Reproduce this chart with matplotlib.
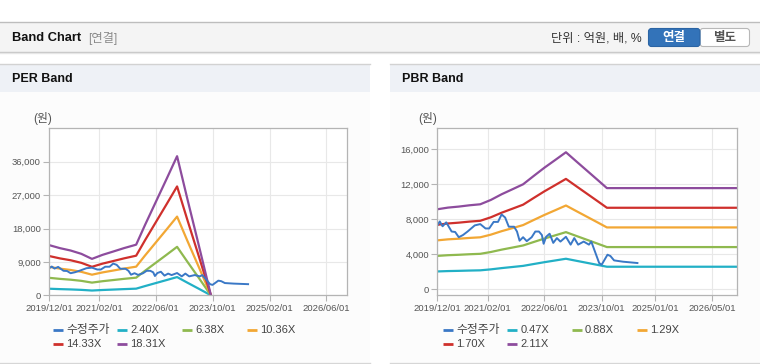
import numpy as np
import matplotlib
matplotlib.use("Agg")
import matplotlib.pyplot as plt
import matplotlib.dates as mdates
from matplotlib.ticker import FuncFormatter
from matplotlib.patches import Rectangle, FancyBboxPatch

# ---- data ----
# adjusted share price (same series in both panels)
price_dates = ['2019-12-01', '2019-12-22', '2020-01-15', '2020-02-15', '2020-04-01', '2020-05-01',
               '2020-06-01', '2020-07-07', '2020-08-15', '2020-10-15', '2020-12-01', '2021-01-15',
               '2021-02-15', '2021-03-25', '2021-05-01', '2021-06-01', '2021-07-01', '2021-08-01',
               '2021-09-15', '2021-10-10', '2021-11-01', '2021-12-01', '2022-01-01', '2022-02-12',
               '2022-03-15', '2022-04-15', '2022-05-10', '2022-05-25', '2022-06-15', '2022-07-15',
               '2022-08-15', '2022-09-15', '2022-10-15', '2022-12-01', '2023-01-10', '2023-02-10',
               '2023-03-15', '2023-05-01', '2023-06-15', '2023-07-05', '2023-09-10', '2023-10-01',
               '2023-11-20', '2023-12-15', '2024-01-15', '2024-04-01', '2024-08-01']
price = [7300, 7750, 7200, 7650, 6600, 6550,
         5950, 6200, 6600, 7300, 7450, 6950,
         6950, 7700, 7700, 8550, 8200, 7150,
         7150, 6600, 5550, 5950, 5500, 5950,
         6600, 6600, 6200, 5200, 6000, 6350,
         5300, 5850, 5450, 6000, 5100, 5850,
         5100, 5450, 5100, 5450, 3000, 2800,
         3950, 3800, 3300, 3150, 3000]

# EPS used for the PER band
eps_dates = ['2019-12-01', '2020-03-01', '2020-06-01', '2020-09-01', '2020-12-01', '2021-03-01',
             '2021-06-01', '2021-09-01', '2021-12-15', '2022-03-01', '2022-06-01', '2022-09-01',
             '2022-12-01', '2023-03-01', '2023-06-01', '2023-09-15']
eps = [738, 694, 659, 610, 536, 595, 644, 694, 745, 1035, 1372, 1709, 2047, 1406, 765, 16]
per_labels = ['2.40X', '6.38X', '10.36X', '14.33X', '18.31X']
per_mult = [2.40, 6.38, 10.36, 14.33, 18.31]

# BPS used for the PBR band
bps_dates = ['2019-12-01', '2020-03-01', '2020-06-01', '2020-09-01', '2020-12-01', '2021-03-01',
             '2021-06-01', '2021-09-01', '2021-12-01', '2022-03-01', '2022-06-01', '2022-09-01',
             '2022-12-01', '2023-03-01', '2023-06-01', '2023-09-01', '2023-11-15', '2026-12-01']
bps = [4334, 4424, 4479, 4550, 4604, 4839, 5147, 5417, 5687, 6137, 6588, 7005,
       7422, 6919, 6410, 5900, 5480, 5480]
pbr_labels = ['0.47X', '0.88X', '1.29X', '1.70X', '2.11X']
pbr_mult = [0.47, 0.88, 1.29, 1.70, 2.11]

per_ticks = ['2019-12-01', '2021-02-01', '2022-06-01', '2023-10-01', '2025-02-01', '2026-06-01']
pbr_ticks = ['2019-12-01', '2021-02-01', '2022-06-01', '2023-10-01', '2025-01-01', '2026-05-01']

price_color = '#3a78c6'
band_colors = ['#22b0c6', '#8fb94f', '#f2a734', '#cf302c', '#8d4c9d']

W, H = 760, 364
KR = ['Liberation Sans', 'Noto Sans CJK KR']


def rect(l, t, r, b):
    return [l / W, (H - b) / H, (r - l) / W, (b - t) / H]


fig = plt.figure(figsize=(W / 100, H / 100), dpi=100)
fig.patch.set_facecolor('white')

# background / frame drawn in pixel coordinates
bg = fig.add_axes([0, 0, 1, 1], zorder=0)
bg.set_xlim(0, W)
bg.set_ylim(H, 0)
bg.axis('off')

# header bar
bg.add_patch(Rectangle((0, 22), W, 30, facecolor='#f4f4f4', edgecolor='none'))
bg.plot([0, W], [21.8, 21.8], color='#bdbdbd', lw=1)
bg.plot([0, W], [52, 52], color='#c4c4c4', lw=1)
bg.plot([0, W], [53.2, 53.2], color='#e6e6e6', lw=1)
bg.text(12, 38, 'Band Chart', fontsize=9.3, fontweight='bold', family='Liberation Sans',
        color='#111111', va='center')
bg.text(88, 38.5, '[연결]', fontsize=8.8, family=KR, color='#8a8a8a', va='center')
bg.text(641.5, 38.5, '단위 : 억원, 배, %', fontsize=8.8, family=KR, color='#333333',
        va='center', ha='right')
bg.add_patch(FancyBboxPatch((700, 28.5), 49.5, 18, boxstyle='round,pad=0,rounding_size=3',
                            facecolor='white', edgecolor='#b8b8b8', lw=0.8))
bg.add_patch(FancyBboxPatch((648.5, 28.5), 51.5, 18, boxstyle='round,pad=0,rounding_size=3',
                            facecolor='#3373b9', edgecolor='#2b64a4', lw=0.8))
bg.text(674, 38, '연결', fontsize=9, fontweight='bold', family=KR, color='white',
        ha='center', va='center')
bg.text(724.5, 38, '별도', fontsize=9, fontweight='bold', family=KR, color='#555555',
        ha='center', va='center')

# panel frames
for x0, title in [(0, 'PER Band'), (390, 'PBR Band')]:
    bg.add_patch(Rectangle((x0, 92), 370, 270, facecolor='#fcfcfc', edgecolor='none'))
    bg.add_patch(Rectangle((x0, 64), 370, 28, facecolor='#eef1f6', edgecolor='none'))
    bg.plot([x0, x0 + 370], [64.3, 64.3], color='#d2d2d2', lw=1)
    bg.plot([x0, x0 + 370], [362.5, 362.5], color='#d6d6d6', lw=1)
    bg.text(x0 + 12, 79.5, title, fontsize=9, fontweight='bold', family='Liberation Sans',
            color='#111111', va='center')

# legends
item_x = [53.3, 117.3, 182, 246.7]
for x0, labels in [(0, per_labels), (390, pbr_labels)]:
    names = ['수정주가'] + labels
    cols = [price_color] + band_colors
    for i, (name, c) in enumerate(zip(names, cols)):
        lx = x0 + item_x[i % 4]
        ly = 330 if i < 4 else 343.5
        bg.plot([lx, lx + 10], [ly, ly], color=c, lw=2, solid_capstyle='butt')
        fs = 8.5 if i == 0 else 8
        bg.text(lx + 13, ly + 0.3, name, fontsize=fs, family=KR, color='#444444', va='center')


def style_axes(ax, ticks, ylim, yticks):
    ax.set_facecolor('white')
    ax.set_xlim(np.datetime64('2019-12-01'), np.datetime64('2026-11-30'))
    ax.set_ylim(*ylim)
    ax.set_xticks(np.array(ticks, dtype='datetime64[D]'))
    ax.xaxis.set_major_formatter(mdates.DateFormatter('%Y/%m/%d'))
    ax.set_yticks(yticks)
    ax.yaxis.set_major_formatter(FuncFormatter(lambda v, p: f'{v:,.0f}'))
    ax.grid(True, color='#e8e8e8', lw=0.8)
    ax.set_axisbelow(True)
    for s in ax.spines.values():
        s.set_color('#b4b4b4')
        s.set_linewidth(0.9)
    ax.tick_params(length=4, width=0.8, color='#b4b4b4', labelsize=6.8, labelcolor='#555555', pad=2)
    for lab in ax.get_xticklabels() + ax.get_yticklabels():
        lab.set_family('Liberation Sans')


# PER band
ax1 = fig.add_axes(rect(49.3, 128.3, 347.3, 295.3), zorder=1)
ed = np.array(eps_dates, dtype='datetime64[D]')
for m, c in zip(per_mult, band_colors):
    ax1.plot(ed, np.array(eps) * m, color=c, lw=1.6)
ax1.plot(np.array(price_dates, dtype='datetime64[D]'), price, color=price_color, lw=1.4)
style_axes(ax1, per_ticks, (0, 45000), [0, 9000, 18000, 27000, 36000])
bg.text(43, 118.3, '(원)', fontsize=8.5, family=KR, color='#555555', ha='center', va='center')

# PBR band
ax2 = fig.add_axes(rect(437.3, 128.3, 737.3, 295.3), zorder=1)
bd = np.array(bps_dates, dtype='datetime64[D]')
for m, c in zip(pbr_mult, band_colors):
    ax2.plot(bd, np.array(bps) * m, color=c, lw=1.6)
ax2.plot(np.array(price_dates, dtype='datetime64[D]'), price, color=price_color, lw=1.4)
style_axes(ax2, pbr_ticks, (-690, 18400), [0, 4000, 8000, 12000, 16000])
bg.text(427.5, 118.3, '(원)', fontsize=8.5, family=KR, color='#555555', ha='center', va='center')

fig.savefig('out.png', dpi=100)
